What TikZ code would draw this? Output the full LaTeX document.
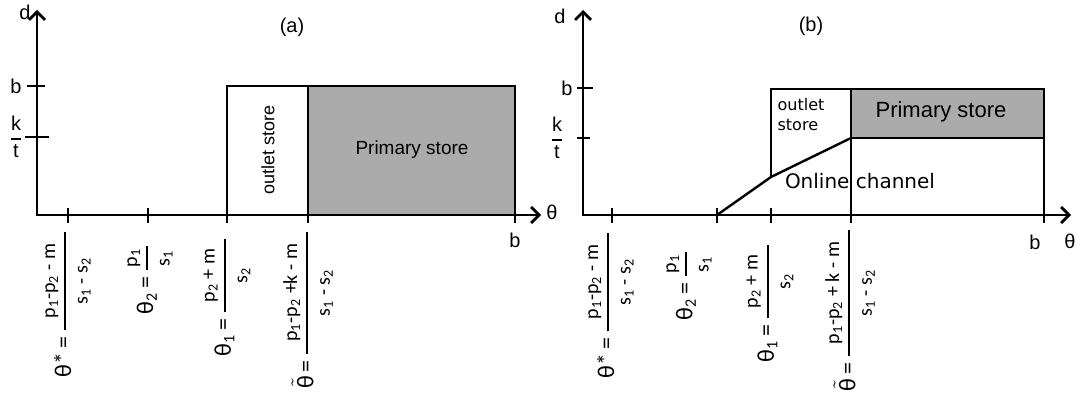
\documentclass[tikz,border=0pt]{standalone}
\usepackage{amsmath}
\usepackage{fontspec}
\setmainfont{Liberation Sans}
\newfontfamily\calfont{Carlito}
\newfontfamily\djfont{DejaVu Sans}
\usetikzlibrary{arrows.meta}

\newcommand{\frsize}{\fontsize{10}{12}\selectfont}
\newcommand{\fr}[3][6pt]{$\genfrac{}{}{0.9pt}{0}{\text{\frsize\kern#1#2\kern#1}}{\text{\frsize #3}}$}
\newcommand{\sub}[1]{\textsubscript{#1}}
\newcommand{\tth}{$\tilde{\text{θ}}$}

\begin{document}
\begin{tikzpicture}[
    x=0.5pt, y=-0.5pt,
    axis/.style={line width=1.4pt, {Straight Barb[length=4pt,width=8pt,line width=1.4pt]}-{Straight Barb[length=4pt,width=8pt,line width=1.4pt]}},
    tick/.style={line width=1.4pt},
    region/.style={line width=1.2pt},
    lab/.style={font=\fontsize{10}{12}\selectfont, inner sep=1pt},
    flab/.style={rotate=90, anchor=east, font=\calfont\fontsize{12}{14}\selectfont, inner sep=0pt},
    ktlab/.style={font=\fontsize{10}{12}\selectfont, inner sep=0pt}
]
\useasboundingbox (0,0) rectangle (1083,401);

% ---------- (a) ----------
% Axes
\draw[axis] (37,10) -- (37,215) -- (541,215);
\foreach \x in {68,148,227,308,515}
    \draw[tick] (\x,208) -- (\x,223);
\draw[tick] (27,86) -- (45,86);
\draw[tick] (25,137) -- (49,137);

% Regions
\draw[region] (227,215) rectangle (308,86);
\filldraw[region, fill=black!33] (308,215) rectangle (515,86);
\node[font=\fontsize{9}{10}\selectfont, rotate=90] (outa) at (268,150) {outlet store};
\node[font=\fontsize{9.5}{11}\selectfont] (prima) at (412,150) {Primary store};

% Labels
\node[lab] (da) at (25,12) {d};
\node[lab] (ta) at (292,27) {(a)};
\node[lab] (bya) at (16,86) {b};
\node[ktlab] (kta) at (16,137) {$\genfrac{}{}{0.8pt}{0}{\text{k}}{\text{t}}$};
\node[lab] (bxa) at (515,240) {b};
\node[lab] (tha) at (552,212) {θ};
\node[flab] (tsa) at (68,229) {θ*\,=\,\fr{p\sub{1}-p\sub{2} - m}{s\sub{1} - s\sub{2}}};
\node[flab] (t2a) at (150,243) {θ\sub{2}\,=\,\fr[1.5pt]{p\sub{1}}{s\sub{1}}};
\node[flab] (t1a) at (227,236) {θ\sub{1}\,=\,\fr[5pt]{p\sub{2} + m}{s\sub{2}}};
\node[flab] (tta) at (308,229) {\tth\,=\,\fr{p\sub{1}-p\sub{2} +k - m}{s\sub{1} - s\sub{2}}};

% ---------- (b) ----------
% Axes
\draw[axis] (583,10) -- (583,215) -- (1071,215);
\foreach \x in {612,717,771,851,1044}
    \draw[tick] (\x,208) -- (\x,223);
\draw[tick] (577,88) -- (593,88);
\draw[tick] (577,138) -- (590,138);

% Regions
\draw[region] (771,177) -- (771,89) -- (851,89) -- (851,215);
\filldraw[region, fill=black!33] (851,138) rectangle (1044,89);
\draw[region] (1044,89) -- (1044,215);
\draw[region] (717,215) -- (771,177) -- (851,138);
\node[font=\djfont\fontsize{8}{10}\selectfont, align=left] (outb) at (801,115) {outlet\\store};
\node[font=\fontsize{11}{12}\selectfont] (primb) at (941,112) {Primary store};
\node[font=\djfont\fontsize{10}{12}\selectfont] (onl) at (860,181) {Online channel};

% Labels
\node[lab] (db) at (560,16) {d};
\node[lab] (tb) at (811,26) {(b)};
\node[lab] (byb) at (567,88) {b};
\node[ktlab] (ktb) at (557,138) {$\genfrac{}{}{0.8pt}{0}{\text{k}}{\text{t}}$};
\node[lab] (bxb) at (1035,242) {b};
\node[lab] (thb) at (1070,241) {θ};
\node[flab] (tsb) at (611,230) {θ*\,=\,\fr{p\sub{1}-p\sub{2} - m}{s\sub{1} - s\sub{2}}};
\node[flab] (t2b) at (689,249) {θ\sub{2}\,=\,\fr[1.5pt]{p\sub{1}}{s\sub{1}}};
\node[flab] (t1b) at (770,242) {θ\sub{1}\,=\,\fr[5pt]{p\sub{2} + m}{s\sub{2}}};
\node[flab] (ttb) at (850,227) {\tth\,=\,\fr{p\sub{1}-p\sub{2} + k - m}{s\sub{1} - s\sub{2}}};

\end{tikzpicture}
\end{document}
